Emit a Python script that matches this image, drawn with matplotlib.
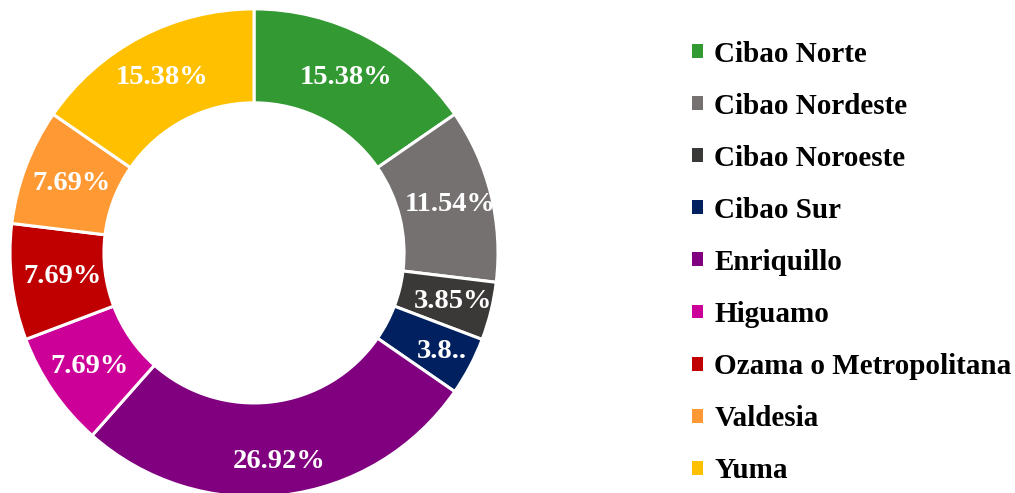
import numpy as np
import matplotlib.pyplot as plt
from matplotlib.patches import Patch

regions = ["Cibao Norte", "Cibao Nordeste", "Cibao Noroeste", "Cibao Sur",
           "Enriquillo", "Higuamo", "Ozama o Metropolitana", "Valdesia", "Yuma"]
shares = [15.38, 11.54, 3.85, 3.85, 26.92, 7.69, 7.69, 7.69, 15.38]
colors = ["#339933", "#767171", "#3b3838", "#002060", "#800080",
          "#cc0099", "#c00000", "#ff9933", "#ffc000"]
# distance of each percent label from the centre (fraction of radius)
label_r = [0.81, 0.83, 0.84, 0.87, 0.86, 0.82, 0.79, 0.80, 0.81]

plt.rcParams["font.family"] = ["Liberation Serif", "DejaVu Serif"]
plt.rcParams["font.weight"] = "bold"

fig = plt.figure(figsize=(10.15, 4.93), dpi=100)
ax = fig.add_axes([0.00985, -0.008, 0.4808, 0.99])

wedges, texts, autotexts = ax.pie(
    shares, colors=colors, startangle=90, counterclock=False,
    radius=1.0, autopct="%.2f%%", pctdistance=0.81,
    wedgeprops=dict(width=0.385, edgecolor="white", linewidth=2.2),
    textprops=dict(color="white", fontsize=20.5, fontweight="bold"))

for w, t, v, r in zip(wedges, autotexts, shares, label_r):
    mid = np.deg2rad((w.theta1 + w.theta2) / 2)
    t.set_position((r * np.cos(mid), r * np.sin(mid)))
    t.set_text(f"{v:.2f}%")
autotexts[3].set_text("3.8..")
ax.set_xlim(-1.0, 1.0)
ax.set_ylim(-1.0, 1.0)
ax.set_aspect("equal")

handles = [Patch(facecolor=c, edgecolor="none") for c in colors]
fig.legend(handles, regions, loc="upper left", bbox_to_anchor=(0.656, 0.971),
           frameon=False, handlelength=0.36, handleheight=0.36,
           handletextpad=0.4, labelspacing=0.86,
           prop=dict(family="Liberation Serif", weight="bold", size=21))

fig.savefig("out.png", dpi=100)
